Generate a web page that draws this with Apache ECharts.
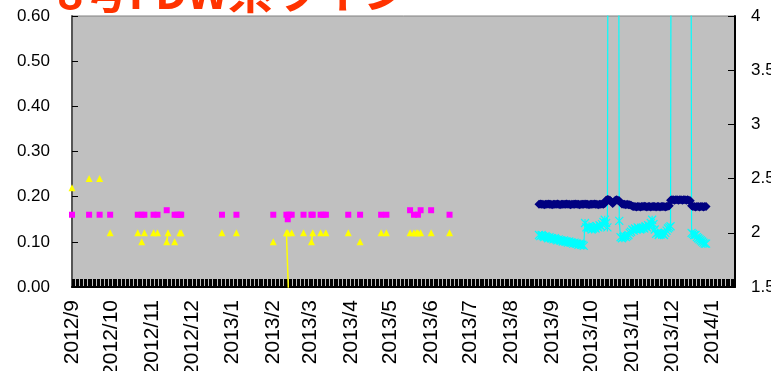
<!DOCTYPE html>
<html>
<head>
<meta charset="utf-8">
<script src="https://cdn.jsdelivr.net/npm/echarts@6/dist/echarts.min.js"></script>
<style>
  html, body { margin: 0; padding: 0; background: #ffffff; }
  #chart { width: 771px; height: 371px; }
</style>
</head>
<body>
<div id="chart"></div>
<script>
// Daily axis range and month tick labels
const axisStart = '2012/9/1';
const axisEnd = '2014/1/18';
const monthLabels = ['2012/9','2012/10','2012/11','2012/12','2013/1','2013/2','2013/3','2013/4',
  '2013/5','2013/6','2013/7','2013/8','2013/9','2013/10','2013/11','2013/12','2014/1'];

// Manual sampling (left axis)
const pinkDates = ['2012/9/1','2012/9/14','2012/9/22','2012/9/30','2012/10/21','2012/10/24','2012/10/26',
  '2012/11/2','2012/11/5','2012/11/12','2012/11/18','2012/11/20','2012/11/22','2012/11/23','2012/12/24',
  '2013/1/4','2013/2/1','2013/2/11','2013/2/12','2013/2/13','2013/2/15','2013/2/24','2013/3/2','2013/3/3',
  '2013/3/9','2013/3/11','2013/3/13','2013/3/30','2013/4/8','2013/4/24','2013/4/28','2013/5/16','2013/5/19',
  '2013/5/22','2013/5/24','2013/6/1','2013/6/15'];
const pinkValues = [0.16,0.16,0.16,0.16,0.16,0.16,0.16,
  0.16,0.16,0.17,0.16,0.16,0.16,0.16,0.16,
  0.16,0.16,0.16,0.15,0.16,0.16,0.16,0.16,0.16,
  0.16,0.16,0.16,0.16,0.16,0.16,0.16,0.17,0.16,
  0.16,0.17,0.17,0.16];

const yellowDates = ['2012/9/1','2012/9/14','2012/9/22','2012/9/30','2012/10/21','2012/10/24','2012/10/26',
  '2012/11/2','2012/11/5','2012/11/12','2012/11/13','2012/11/18','2012/11/22','2012/11/23','2012/12/24',
  '2013/1/4','2013/2/1','2013/2/11','2013/2/12','2013/2/13','2013/2/15','2013/2/24','2013/3/2','2013/3/3',
  '2013/3/9','2013/3/13','2013/3/30','2013/4/8','2013/4/24','2013/4/28','2013/5/16','2013/5/19','2013/5/21',
  '2013/5/22','2013/5/24','2013/6/1','2013/6/15'];
const yellowValues = [0.22,0.24,0.24,0.12,0.12,0.10,0.12,
  0.12,0.12,0.10,0.12,0.10,0.12,0.12,0.12,
  0.12,0.10,0.12,0.12,-0.05,0.12,0.12,0.10,0.12,
  0.12,0.12,0.12,0.10,0.12,0.12,0.12,0.12,0.12,
  0.12,0.12,0.12,0.12];

// Continuous monitoring, one value per day from this date
const onlineStart = '2013/8/22';
// navy: left axis
const navyValues = [
  0.183,0.184,0.183,0.183,0.182,0.183,0.183,0.184,0.183,0.183,
  0.182,0.183,0.183,0.183,0.184,0.183,0.182,0.183,0.183,0.183,
  0.183,0.184,0.183,0.183,0.182,0.183,0.183,0.183,0.184,0.183,
  0.183,0.182,0.183,0.183,0.183,0.184,0.183,0.183,0.182,0.183,
  0.183,0.183,0.184,0.183,0.183,0.182,0.183,0.183,0.184,0.183,
  0.185,
  0.192,0.194,0.193,0.192,0.189,0.185,0.188,0.192,0.193,0.192,0.191,0.187,
  0.184,0.183,0.183,0.182,0.183,0.182,0.182,0.181,0.179,
  0.178,0.178,0.177,0.178,0.178,0.177,0.178,0.178,0.179,0.178,
  0.177,0.178,0.178,0.177,0.178,0.178,0.178,0.177,0.178,0.178,
  0.177,0.178,0.178,0.178,0.177,0.178,0.179,0.180,
  0.192,0.193,0.193,0.192,0.193,0.193,0.192,0.193,0.193,0.192,0.193,0.193,0.192,0.193,0.192,0.191,
  0.180,0.178,0.178,0.177,0.178,0.178,0.177,0.178,0.178,0.177,0.178,0.178];
// cyan: right axis (null = no reading)
const cyanValues = [
  1.98,1.97,1.98,1.97,1.96,1.97,1.96,1.95,1.96,1.95,
  1.95,1.94,1.95,1.94,1.93,1.94,1.93,1.93,1.92,1.93,
  1.92,1.92,1.91,1.92,1.91,1.91,1.90,1.91,1.90,1.90,
  1.89,1.90,1.89,1.89,1.88,
  2.09,2.05,2.04,2.06,2.05,2.03,2.04,2.05,2.04,2.06,2.05,2.07,2.06,2.08,2.10,2.12,2.09,2.05,
  9,
  null,null,null,null,null,null,
  9,
  2.11,
  1.96,1.95,1.96,1.97,1.96,1.97,1.98,
  2.00,2.01,2.03,2.02,2.04,2.03,2.05,2.04,2.03,2.04,2.05,2.04,2.06,2.05,2.07,2.06,
  2.09,2.12,2.08,2.03,
  1.99,2.00,1.98,1.99,2.00,1.99,1.98,2.00,2.02,2.04,
  2.05,2.06,
  9,
  null,null,null,null,null,null,null,null,null,null,null,null,null,
  9,
  2.00,1.99,1.98,1.98,1.96,1.95,1.94,1.93,1.92,1.91,1.90,1.90];

// ---- build the daily category axis ----
function parseDay(s) { const p = s.split('/').map(Number); return Date.UTC(p[0], p[1] - 1, p[2]); }
function fmtDay(t) { const d = new Date(t); return d.getUTCFullYear() + '/' + (d.getUTCMonth() + 1) + '/' + d.getUTCDate(); }
const days = [];
for (let t = parseDay(axisStart); t <= parseDay(axisEnd); t += 86400000) days.push(fmtDay(t));
const dayIndex = {};
days.forEach((d, i) => { dayIndex[d] = i; });
const monthSet = new Set(monthLabels.map(m => m + '/1'));

function sparse(dates, values) {
  const out = new Array(days.length).fill(null);
  dates.forEach((d, k) => { out[dayIndex[d]] = values[k]; });
  return out;
}
function dailyFrom(start, values) {
  const out = new Array(days.length).fill(null);
  const s = dayIndex[start];
  values.forEach((v, k) => { out[s + k] = v; });
  return out;
}

const asterisk = 'path://M0,0L10,10M10,0L0,10M5,0L5,10';
const axisFont = { fontFamily: 'Liberation Sans, Arial, sans-serif', fontSize: 17, color: '#000' };

const chart = echarts.init(document.getElementById('chart'), null, { renderer: 'canvas' });
chart.setOption({
  animation: false,
  backgroundColor: '#ffffff',
  graphic: [{
    type: 'text',
    left: 57,
    top: -31,
    style: {
      text: '8号FDW系ライン',
      fill: '#ff3300',
      font: 'bold 45px "Noto Sans CJK JP", sans-serif'
    }
  }],
  grid: {
    left: 72, right: 36, top: 16, bottom: 84,
    outerBoundsMode: 'none',
    containLabel: false,
    show: true, backgroundColor: '#c0c0c0', borderColor: '#808080', borderWidth: 1
  },
  xAxis: {
    type: 'category',
    data: days,
    boundaryGap: false,
    axisLine: { lineStyle: { color: '#000', width: 2 } },
    axisTick: { interval: 0, inside: true, length: 8, lineStyle: { color: '#000', width: 1 } },
    axisLabel: Object.assign({
      interval: (i, v) => monthSet.has(v),
      rotate: 90,
      margin: 13,
      formatter: v => v.split('/').slice(0, 2).join('/')
    }, axisFont, { fontSize: 21 }),
    splitLine: { show: false }
  },
  yAxis: [{
    type: 'value', min: 0, max: 0.6, interval: 0.1, position: 'left',
    axisLine: { show: true, lineStyle: { color: '#555', width: 2 } },
    axisTick: { show: true, inside: true, length: 6, lineStyle: { color: '#000' } },
    axisLabel: Object.assign({ margin: 22, formatter: v => v.toFixed(2) }, axisFont),
    splitLine: { show: false }
  }, {
    type: 'value', min: 1.5, max: 4, interval: 0.5, position: 'right',
    axisLine: { show: true, lineStyle: { color: '#000', width: 2 } },
    axisTick: { show: true, inside: true, length: 7, lineStyle: { color: '#000' } },
    axisLabel: Object.assign({ margin: 16 }, axisFont),
    splitLine: { show: false }
  }],
  series: [{
    type: 'line', yAxisIndex: 0, data: sparse(pinkDates, pinkValues),
    symbol: 'rect', symbolSize: 6, showAllSymbol: true,
    itemStyle: { color: '#ff00ff' }, lineStyle: { color: '#ff00ff', width: 1.5 }
  }, {
    type: 'line', yAxisIndex: 0, data: sparse(yellowDates, yellowValues),
    symbol: 'triangle', symbolSize: 7, showAllSymbol: true,
    itemStyle: { color: '#ffff00' }, lineStyle: { color: '#ffff00', width: 1.5 }
  }, {
    type: 'line', yAxisIndex: 0, data: dailyFrom(onlineStart, navyValues),
    symbol: 'diamond', symbolSize: 9, showAllSymbol: true,
    itemStyle: { color: '#000080' }, lineStyle: { color: '#000080', width: 1 }
  }, {
    type: 'line', yAxisIndex: 1, data: dailyFrom(onlineStart, cyanValues),
    symbol: asterisk, symbolSize: 8, showAllSymbol: true,
    itemStyle: { color: '#00ffff', borderColor: '#00ffff', borderWidth: 1.2 },
    lineStyle: { color: '#00ffff', width: 1.2 }
  }]
});
</script>
</body>
</html>
